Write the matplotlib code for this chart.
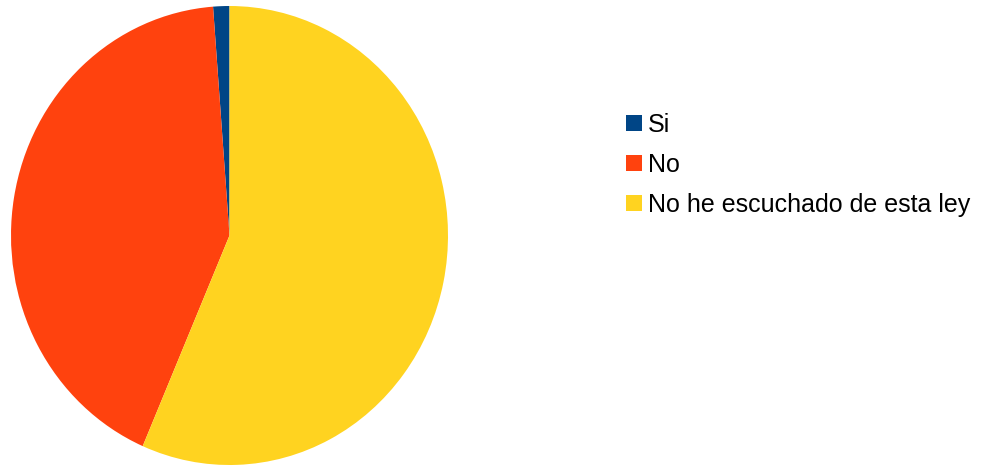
import matplotlib.pyplot as plt
from matplotlib.patches import Rectangle

# datos de la encuesta
etiquetas = ["Si", "No", "No he escuchado de esta ley"]
valores = [1.2, 42.3, 56.5]
colores = ["#004586", "#ff420e", "#ffd320"]

W, H = 981, 468
fig = plt.figure(figsize=(W / 100, H / 100), dpi=100)
plt.rcParams['font.family'] = ['Liberation Sans', 'DejaVu Sans']

# pastel (ligeramente elíptico como en la referencia)
ax = fig.add_axes([11 / W, 3 / H, 437 / W, 459 / H])
ax.pie(valores, colors=colores, startangle=90, counterclock=True,
       wedgeprops=dict(linewidth=0), radius=1)
ax.set_aspect('auto')
ax.set_xlim(-1, 1)
ax.set_ylim(-1, 1)
ax.axis('off')

# leyenda manual
base = [132, 172, 212]
for lab, col, yb in zip(etiquetas, colores, base):
    fig.patches.append(Rectangle((626 / W, (H - yb + 1) / H), 16 / W, 16 / H,
                                 transform=fig.transFigure, facecolor=col,
                                 edgecolor='none'))
    fig.text(648 / W, (H - yb) / H, lab, fontsize=18, va='baseline',
             ha='left', color='#000000')

plt.savefig("out.png", dpi=100)
